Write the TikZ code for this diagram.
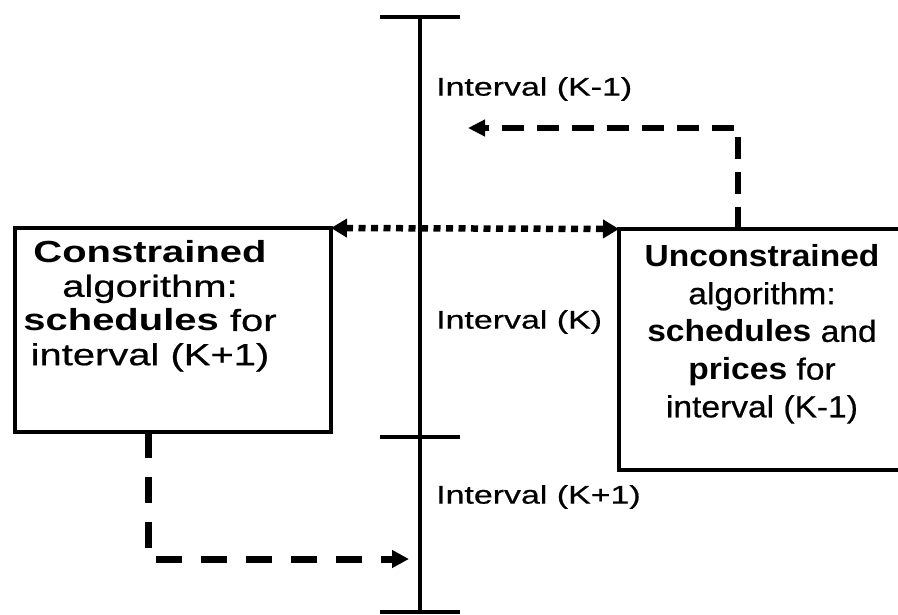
\documentclass[tikz,border=0pt]{standalone}
\usepackage{fontspec}
\setmainfont{Liberation Sans}[FakeStretch=1.33, UprightFeatures={FakeBold=0.6}]
\newfontfamily\lboxfont{Liberation Sans}[FakeStretch=1.31, UprightFeatures={FakeBold=0.6}]
\newfontfamily\rboxfont{Liberation Sans}[FakeStretch=1.1, UprightFeatures={FakeBold=0.6}]
\usetikzlibrary{arrows.meta}
\tikzset{
  boxst/.style={draw, line width=4.5pt, rectangle, inner sep=0pt, outer sep=0pt},
  ltxtst/.style={align=center, inner sep=0pt, font=\lboxfont\fontsize{30.5pt}{34.2pt}\selectfont},
  rtxtst/.style={align=center, inner sep=0pt, font=\rboxfont\fontsize{30.5pt}{37.7pt}\selectfont},
  lbl/.style={anchor=west, inner sep=0pt, font=\fontsize{25.5pt}{30pt}\selectfont},
  timeline/.style={line width=4pt},
  dashA/.style={line width=6.5pt, dash pattern=on 22pt off 13pt, -{Triangle[length=17pt,width=16pt]}},
  dashB/.style={line width=7pt, dash pattern=on 26pt off 19pt, -{Triangle[length=17pt,width=17pt]}},
  dotst/.style={line width=6.5pt, dash pattern=on 7pt off 5.5pt, {Triangle[length=16pt,width=18pt]}-{Triangle[length=16pt,width=18pt]}}
}
\begin{document}
\begin{tikzpicture}[x=1pt,y=-1pt]
\clip (0,0) rectangle (898,614);
\useasboundingbox (0,0) rectangle (898,614);
\fill[white] (0,0) rectangle (898,614);
% timeline
\coordinate (ttop) at (420,17);
\coordinate (tbot) at (420,612);
\draw[timeline] (ttop) -- (tbot);
\draw[timeline] (380,17) -- (460,17);
\draw[timeline] (380,437) -- (460,437);
\draw[timeline] (380,612) -- (460,612);
% labels
\node[lbl] (l1) at (436,89) {Interval (K-1)};
\node[lbl] (l2) at (436,322) {Interval (K)};
\node[lbl] (l3) at (436,497) {Interval (K+1)};
% boxes
\node[boxst, minimum width=316pt, minimum height=204pt] (lbox) at (173,330) {};
\node[boxst, minimum width=288pt, minimum height=241pt] (rbox) at (763,349.5) {};
\node[ltxtst] (ltxt) at (150,306) {\textbf{Constrained}\\algorithm:\\\textbf{schedules} for\\interval (K+1)};
\node[rtxtst] (rtxt) at (762,334) {\textbf{Unconstrained}\\algorithm:\\\textbf{schedules} and\\\textbf{prices} for\\interval (K-1)};
% connectors
\coordinate (lout) at (148,432);
\coordinate (lcorner) at (148,559);
\coordinate (k1in) at (409,559);
\draw[dashB] (lout) -- (lcorner) -- (k1in);
\coordinate (rout) at (738,229);
\coordinate (rcorner) at (738,128);
\coordinate (km1in) at (468,128);
\draw[dashA] (rout) -- (rcorner) -- (km1in);
\draw[dotst] (lbox.north east) -- (rbox.north west);
\end{tikzpicture}
\end{document}
